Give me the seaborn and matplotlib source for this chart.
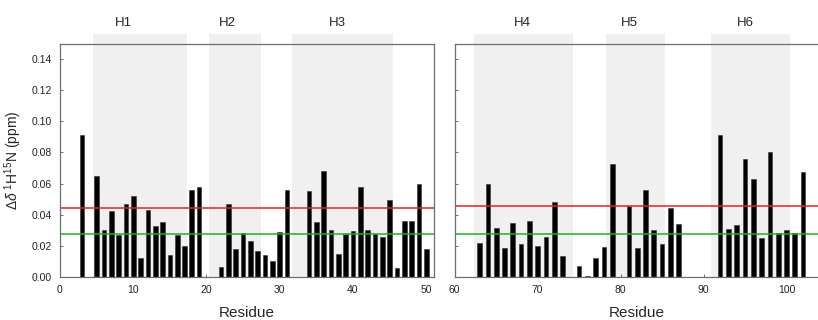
import numpy as np
import pandas as pd
import seaborn as sns
import matplotlib
matplotlib.use('Agg')
import matplotlib.pyplot as plt
import matplotlib.transforms as mtransforms

# residues and chemical shift perturbation (ppm)
res_a = [3, 5, 6, 7, 8, 9, 10, 11, 12, 13, 14, 15, 16, 17, 18, 19,
         22, 23, 24, 25, 26, 27, 28, 29, 30, 31,
         34, 35, 36, 37, 38, 39, 40, 41, 42, 43, 44, 45, 46, 47, 48, 49, 50]
csp_a = [0.0912, 0.0649, 0.0299, 0.0424, 0.0267, 0.0465, 0.0518, 0.0123, 0.0428, 0.0325,
         0.0353, 0.0142, 0.0267, 0.0198, 0.0559, 0.0576,
         0.0065, 0.0471, 0.0176, 0.0280, 0.0230, 0.0163, 0.0140, 0.0099, 0.0286, 0.0557,
         0.0553, 0.0353, 0.0680, 0.0303, 0.0146, 0.0277, 0.0297, 0.0576, 0.0303, 0.0277,
         0.0258, 0.0495, 0.0056, 0.0357, 0.0361, 0.0598, 0.0176]

res_b = [63, 64, 65, 66, 67, 68, 69, 70, 71, 72, 73,
         75, 76, 77, 78, 79, 81, 82, 83, 84, 85, 86, 87,
         92, 93, 94, 95, 96, 97, 98, 99, 100, 101, 102]
csp_b = [0.0219, 0.0594, 0.0316, 0.0183, 0.0348, 0.0213, 0.0357, 0.0198, 0.0254, 0.0484, 0.0135,
         0.0067, 0.0006, 0.0120, 0.0194, 0.0727, 0.0456, 0.0185, 0.0557, 0.0299, 0.0213, 0.0443, 0.0342,
         0.0914, 0.0308, 0.0333, 0.0759, 0.0630, 0.0249, 0.0800, 0.0280, 0.0299, 0.0284, 0.0675]

# helices: name, start, end, label position
helix_a = [('H1', 4.5, 17.4, 8.7), ('H2', 20.4, 27.4, 22.8), ('H3', 31.7, 45.4, 37.9)]
helix_b = [('H4', 62.3, 74.3, 68.2), ('H5', 78.2, 85.4, 81.1), ('H6', 90.9, 100.4, 95.1)]

# thresholds
red_a, green_a = 0.0445, 0.0277
red_b, green_b = 0.0458, 0.0277

sns.set_style('ticks')
plt.rcParams['font.family'] = ['Liberation Sans', 'DejaVu Sans']
plt.rcParams['mathtext.fontset'] = 'custom'
plt.rcParams['mathtext.rm'] = 'Liberation Sans'
plt.rcParams['mathtext.it'] = 'Liberation Sans:italic'

spine_col = '#6e6e6e'
shade_col = '#eff0ef'

fig = plt.figure(figsize=(8.18, 3.2), dpi=100)
ax1 = fig.add_axes([0.0733, 0.1353, 0.4572, 0.728])
ax2 = fig.add_axes([0.5559, 0.1353, 0.4441, 0.728])


def panel(ax, res, csp, helices, red, green, xlim, xticks, width, show_y):
    for name, a, b, xl in helices:
        ax.axvspan(a, b, ymin=0, ymax=1.043, color=shade_col, lw=0, zorder=0, clip_on=False)
        tr = mtransforms.blended_transform_factory(ax.transData, ax.transAxes)
        ax.text(xl, 1.087, name, transform=tr, ha='center', va='center', fontsize=9.5)
    df = pd.DataFrame({'res': res, 'csp': csp})
    sns.barplot(data=df, x='res', y='csp', native_scale=True, color='black', saturation=1,
                width=width, errorbar=None, edgecolor='#333333', linewidth=0.4, ax=ax, zorder=2)
    ax.axhline(red, color='#e8201e', lw=1.1, zorder=3)
    ax.axhline(green, color='#22b022', lw=1.1, zorder=3)
    ax.set_xlim(*xlim)
    ax.set_ylim(0, 0.15)
    ax.set_xticks(xticks)
    ax.set_yticks(np.arange(0, 0.141, 0.02))
    ax.patch.set_alpha(0)
    for s in ax.spines.values():
        s.set_color(spine_col)
        s.set_linewidth(0.9)
        s.set_zorder(5)
    ax.tick_params(direction='in', length=2.5, width=0.7, color=spine_col,
                   labelsize=7.5, labelcolor='#222222', pad=6)
    ax.set_xlabel('Residue', fontsize=11, labelpad=8)
    if show_y:
        ax.set_yticklabels(['%.2f' % v for v in np.arange(0, 0.141, 0.02)])
        ax.set_ylabel(r'$\Delta\delta$ $^{1}$H$^{15}$N (ppm)', fontsize=10, labelpad=5)
    else:
        ax.set_yticklabels([])
        ax.set_ylabel('')
        ax.spines['right'].set_visible(False)


panel(ax1, res_a, csp_a, helix_a, red_a, green_a, (0, 51.05), range(0, 51, 10), 0.64, True)
panel(ax2, res_b, csp_b, helix_b, red_b, green_b, (60, 103.8), range(60, 101, 10), 0.57, False)

fig.savefig('out.png', dpi=100)
